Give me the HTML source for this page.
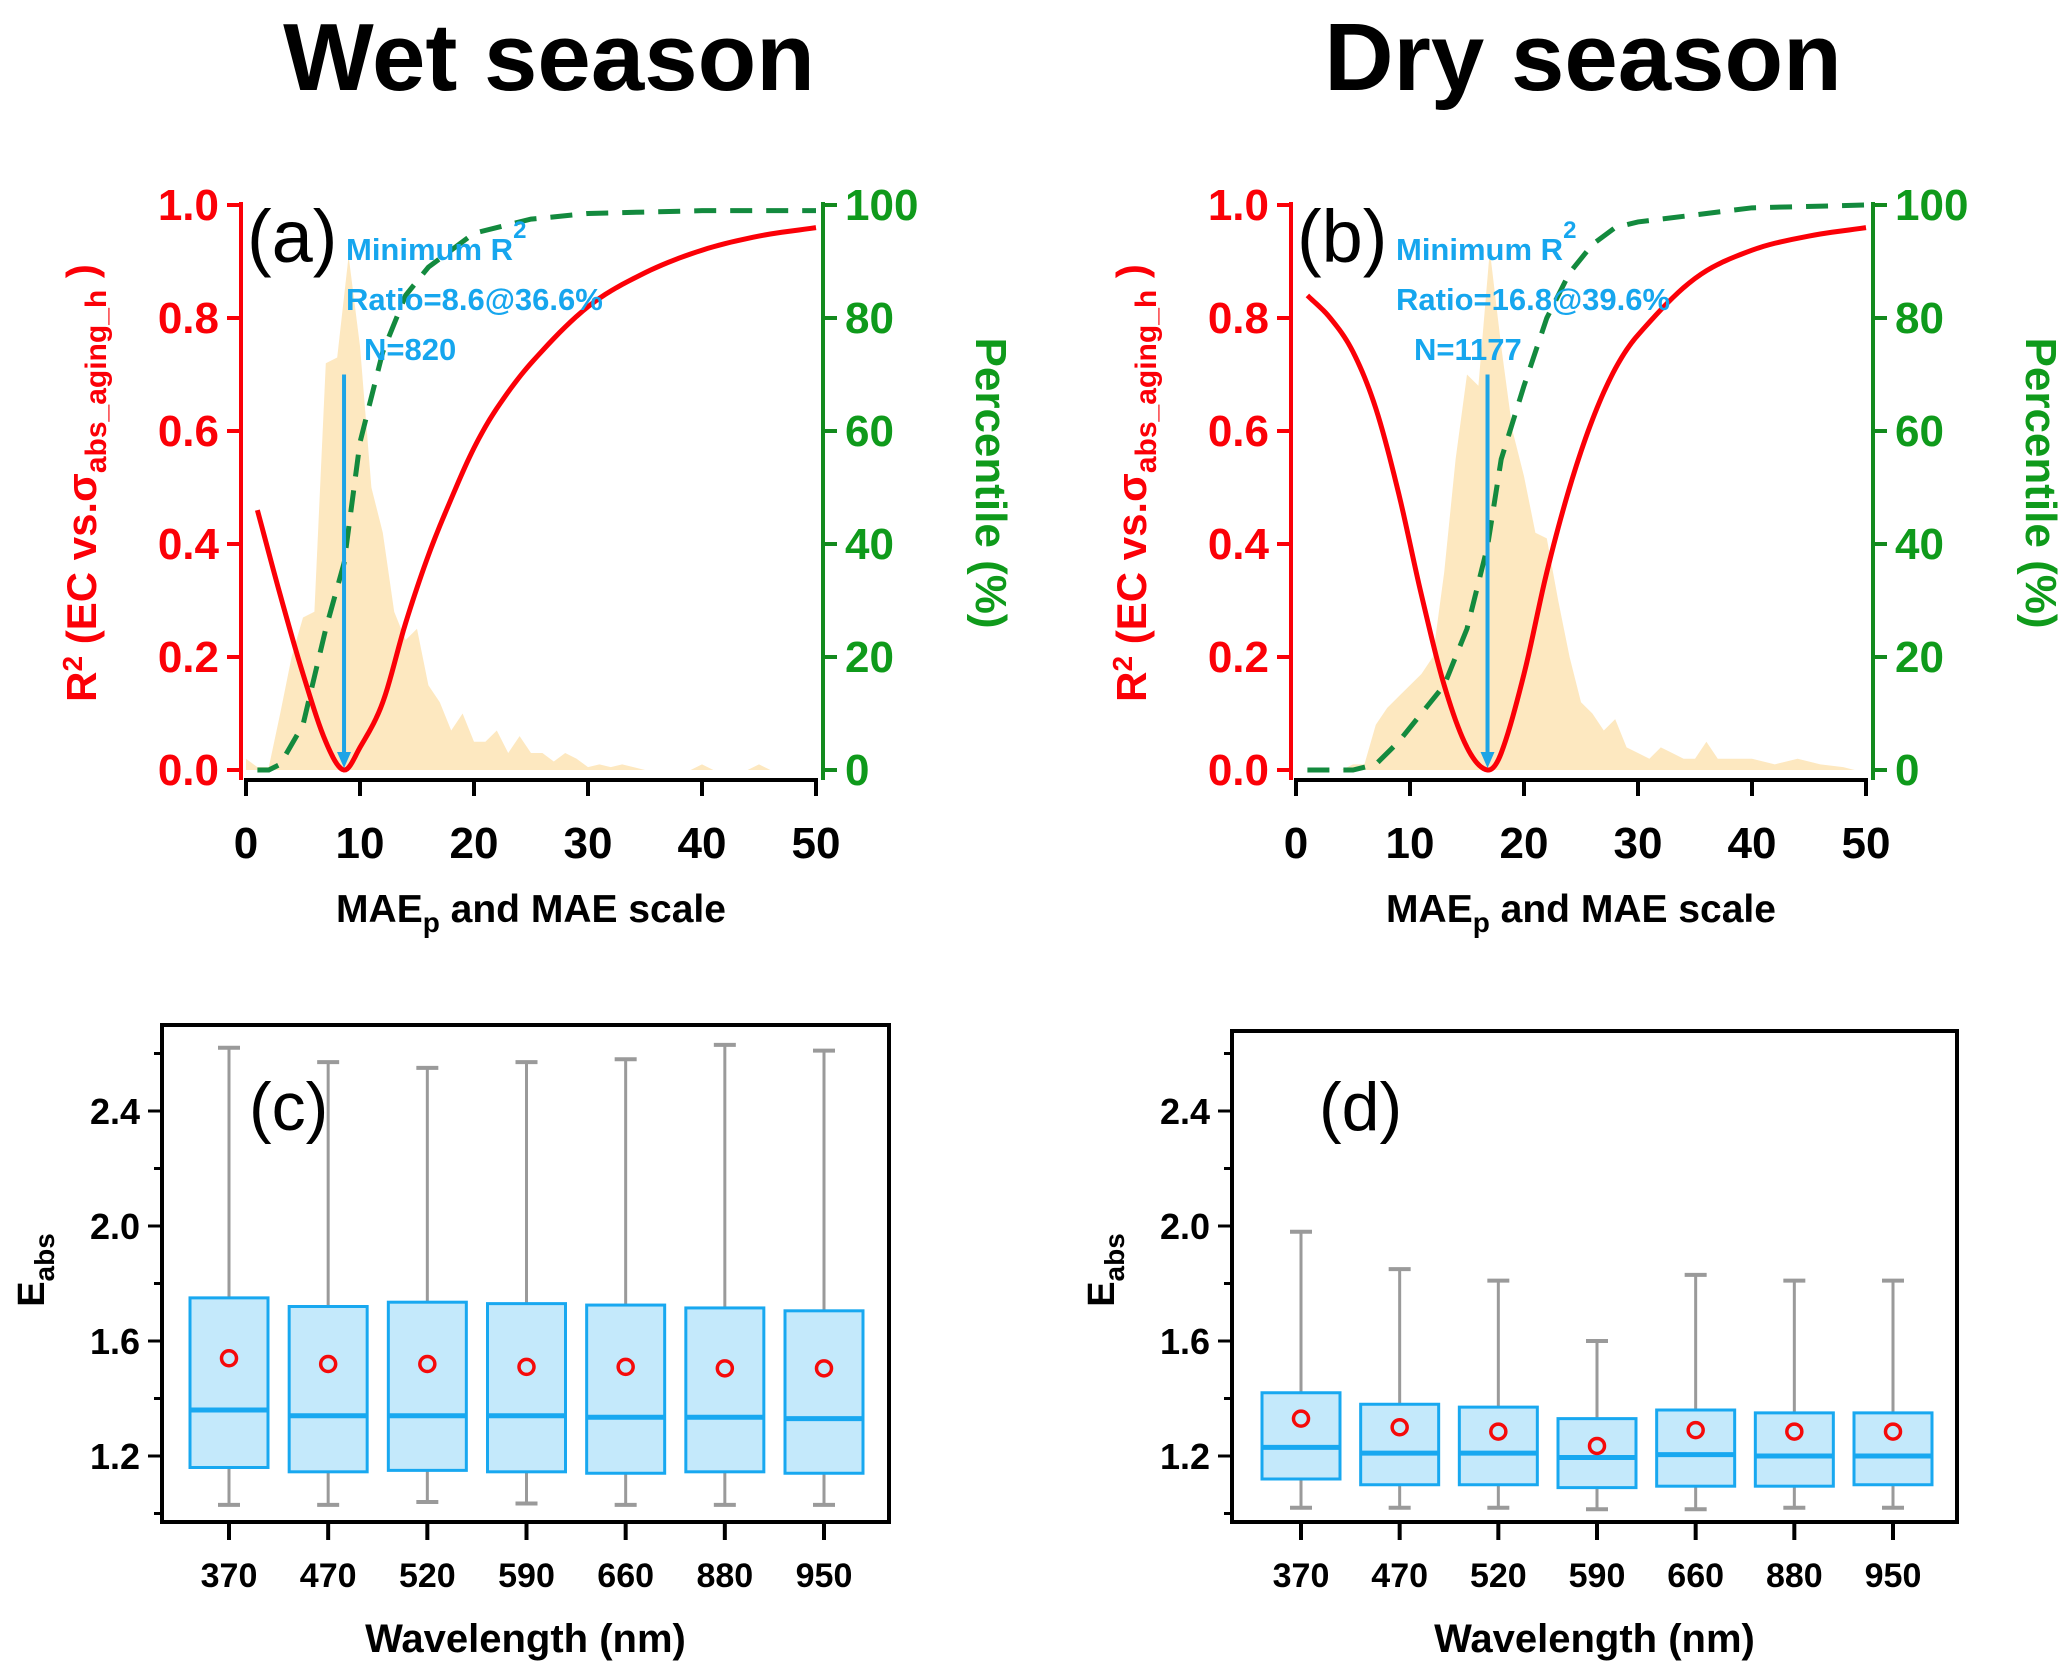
<!DOCTYPE html>
<html><head><meta charset="utf-8"><style>
html,body{margin:0;padding:0;background:#fff;}
svg{display:block;font-family:"Liberation Sans",sans-serif;}
</style></head><body>
<svg id="fig" width="2067" height="1680" viewBox="0 0 2067 1680" xmlns="http://www.w3.org/2000/svg">
<text x="549" y="90" font-size="96" font-weight="bold" text-anchor="middle">Wet season</text>
<text x="1583" y="90" font-size="96" font-weight="bold" text-anchor="middle">Dry season</text>
<g id="gA"></g>
<g id="gB"></g>
<g id="gC"></g>
<g id="gD"></g>
</svg>
<script>
// ---- Panel a data ----
const aR2X = [1,3,5,7,8.6,10,12,14,16,18,20,22,25,30,35,40,45,50];
const aR2Y = [0.46,0.31,0.17,0.05,0,0.04,0.12,0.26,0.38,0.48,0.57,0.64,0.72,0.82,0.88,0.92,0.945,0.96];
const aPctX = [1,2,3,5,7,8.6,10,12,14,16,20,25,30,40,50];
const aPctY = [0,0,1,8,25,36.6,58,74,84,89,95,97.5,98.5,99,99];
const aHistX = [0,1,2,3,4,5,6,7,8,9,10,11,12,13,14,15,16,17,18,19,20,21,22,23,24,25,26,27,28,29,30,31,32,33,35,39,40,41,44,45,46,49];
const aHistY = [0.02,0.005,0.005,0.1,0.2,0.27,0.28,0.72,0.73,0.91,0.75,0.5,0.42,0.28,0.23,0.25,0.15,0.12,0.07,0.1,0.05,0.05,0.07,0.03,0.06,0.03,0.03,0.015,0.03,0.02,0.005,0.01,0.005,0.01,0,0,0.01,0,0,0.01,0,0];
const aMin = 8.6;
const aText = ["Minimum R","Ratio=8.6@36.6%","N=820"];
// ---- Panel b data ----
const bR2X = [1,3,5,7,9,11,13,15,16.8,18,20,22,24,26,28,30,35,40,45,50];
const bR2Y = [0.84,0.8,0.74,0.64,0.49,0.31,0.15,0.04,0,0.03,0.17,0.35,0.5,0.62,0.71,0.77,0.87,0.92,0.945,0.96];
const bPctX = [1,5,7,9,11,13,15,16.8,18,20,22,24,26,28,30,40,50];
const bPctY = [0,0,1,5,10,15,25,39.6,55,68,80,88,93,96,97,99.5,100];
const bHistX = [0,4,5,6,7,8,9,10,11,12,13,14,15,16,17,18,19,20,21,22,23,24,25,26,27,28,29,30,31,32,33,34,35,36,37,38,40,42,44,46,48,49];
const bHistY = [0,0,0.01,0.01,0.08,0.11,0.13,0.15,0.17,0.2,0.35,0.55,0.7,0.68,0.92,0.75,0.6,0.52,0.42,0.41,0.3,0.2,0.12,0.1,0.07,0.09,0.04,0.03,0.02,0.04,0.03,0.02,0.02,0.05,0.02,0.02,0.02,0.01,0.02,0.01,0.005,0];
const bMin = 16.8;
const bText = ["Minimum R","Ratio=16.8@39.6%","N=1177"];
// ---- Box data ----
const waves = ["370","470","520","590","660","880","950"];
const cHigh = [2.62,2.57,2.55,2.57,2.58,2.63,2.61];
const cQ3 = [1.75,1.72,1.735,1.73,1.725,1.715,1.705];
const cMed = [1.36,1.34,1.34,1.34,1.335,1.335,1.33];
const cMean = [1.54,1.52,1.52,1.51,1.51,1.505,1.505];
const cQ1 = [1.16,1.145,1.15,1.145,1.14,1.145,1.14];
const cLow = [1.03,1.03,1.04,1.035,1.03,1.03,1.03];
const dHigh = [1.98,1.85,1.81,1.60,1.83,1.81,1.81];
const dQ3 = [1.42,1.38,1.37,1.33,1.36,1.35,1.35];
const dMed = [1.23,1.21,1.21,1.195,1.205,1.20,1.20];
const dMean = [1.33,1.30,1.285,1.235,1.29,1.285,1.285];
const dQ1 = [1.12,1.10,1.10,1.09,1.095,1.095,1.10];
const dLow = [1.02,1.02,1.02,1.015,1.015,1.02,1.02];
const eTicks = [1.2,1.6,2.0,2.4];

const NS="http://www.w3.org/2000/svg";
function mk(p,tag,at,txt){const e=document.createElementNS(NS,tag);for(const k in at)e.setAttribute(k,at[k]);if(txt!==undefined)e.textContent=txt;p.appendChild(e);return e;}

function linePanel(g,L,R2X,R2Y,PX,PY,HX,HY,minX,txt,lab){
  const x0=L, x1=L+570, y0=770, y1=205;
  const sx=v=>x0+(v/50)*(x1-x0), sy=v=>y0-v*(y0-y1), sp=v=>y0-(v/100)*(y0-y1);
  const axL=x0-5, axR=x1+7;
  let d="M"+sx(HX[0])+","+y0;
  HX.forEach((v,i)=>d+=" L"+sx(v)+","+sy(HY[i]));
  d+=" L"+sx(HX[HX.length-1])+","+y0+"Z";
  let e=mk(g,"path",{d:d,fill:"#fde8c0"});
  
  
  e=mk(g,"polyline",{points:PX.map((v,i)=>sx(v)+","+sp(PY[i])).join(" "),fill:"none",stroke:"#138a3e","stroke-width":5,"stroke-dasharray":"22,14"});
  
  
  let pts=[];
  for(let i=0;i<R2X.length-1;i++){const xa=R2X[i],xb=R2X[i+1],ya=R2Y[i],yb=R2Y[i+1];
    const ma=i>0?(R2Y[i+1]-R2Y[i-1])/(R2X[i+1]-R2X[i-1]):(yb-ya)/(xb-xa);
    const mb=i<R2X.length-2?(R2Y[i+2]-R2Y[i])/(R2X[i+2]-R2X[i]):(yb-ya)/(xb-xa);
    const h=xb-xa;
    for(let t=0;t<1;t+=0.1){const h00=2*t*t*t-3*t*t+1,h10=t*t*t-2*t*t+t,h01=-2*t*t*t+3*t*t,h11=t*t*t-t*t;
      const y=h00*ya+h10*h*ma+h01*yb+h11*h*mb; pts.push(sx(xa+t*h)+","+sy(Math.max(0,y)));}}
  pts.push(sx(R2X[R2X.length-1])+","+sy(R2Y[R2Y.length-1]));
  e=mk(g,"polyline",{points:pts.join(" "),fill:"none",stroke:"#fb0007","stroke-width":5});
  
  
  e=mk(g,"line",{x1:sx(minX),y1:sy(0.7),x2:sx(minX),y2:sy(0)-14,stroke:"#1ea4e6","stroke-width":4});
  
  
  mk(g,"path",{d:`M${sx(minX)-7},${sy(0)-18} L${sx(minX)+7},${sy(0)-18} L${sx(minX)},${sy(0)-2}Z`,fill:"#1ea4e6"});
  e=mk(g,"line",{x1:axL,y1:y1-3,x2:axL,y2:y0+10,stroke:"#fb0007","stroke-width":4});
  
  
  e=mk(g,"line",{x1:axR,y1:y1-3,x2:axR,y2:y0+10,stroke:"#138a1e","stroke-width":4});
  
  
  e=mk(g,"line",{x1:sx(0)-2,y1:780,x2:sx(50)+2,y2:780,stroke:"#000","stroke-width":4});
  
  
  for(let v=0;v<=1.001;v+=0.2){
    mk(g,"line",{x1:axL-14,y1:sy(v),x2:axL,y2:sy(v),stroke:"#fb0007","stroke-width":4});
    e=mk(g,"text",{x:axL-22,y:sy(v)+15,"font-size":44,"font-weight":"bold",fill:"#fb0007","text-anchor":"end"},v.toFixed(1));
    
    
    const p=Math.round(v*100);
    mk(g,"line",{x1:axR,y1:sp(p),x2:axR+14,y2:sp(p),stroke:"#138a1e","stroke-width":4});
    e=mk(g,"text",{x:axR+22,y:sp(p)+15,"font-size":44,"font-weight":"bold",fill:"#0f9a1b"},String(p));
    
    
  }
  for(let v=0;v<=50;v+=10){
    mk(g,"line",{x1:sx(v),y1:780,x2:sx(v),y2:796,stroke:"#000","stroke-width":4});
    e=mk(g,"text",{x:sx(v),y:858,"font-size":44,"font-weight":"bold","text-anchor":"middle"},String(v));
    
    
  }
  e=mk(g,"text",{x:sx(25),y:922,"font-size":39,"font-weight":"bold","text-anchor":"middle"});
  e.innerHTML='MAE<tspan font-size="28" dy="10">p</tspan><tspan dy="-10"> and MAE scale</tspan>';
  
  
  e=mk(g,"text",{transform:`translate(${L-150},483) rotate(-90)`,"font-size":42,"font-weight":"bold",fill:"#fb0007","text-anchor":"middle"});
  e.innerHTML='R<tspan font-size="28" dy="-14">2</tspan><tspan dy="14"> (EC vs.σ</tspan><tspan font-size="30" dy="10">abs_aging_h</tspan><tspan dy="-10"> )</tspan>';
  
  
  e=mk(g,"text",{transform:`translate(${axR+153},483) rotate(90)`,"font-size":44,"font-weight":"bold",fill:"#0f9a1b","text-anchor":"middle"},"Percentile (%)");
  
  
  e=mk(g,"text",{x:axL+6,y:262,"font-size":74},lab);
  
  
  const tx=axL+105;
  e=mk(g,"text",{x:tx,y:260,"font-size":31,"font-weight":"bold",fill:"#16a6ee"});
  e.innerHTML=txt[0]+'<tspan font-size="24" dy="-22">2</tspan>';
  
  
  e=mk(g,"text",{x:tx,y:310,"font-size":31,"font-weight":"bold",fill:"#16a6ee"},txt[1]);
  
  
  e=mk(g,"text",{x:tx+18,y:360,"font-size":31,"font-weight":"bold",fill:"#16a6ee"},txt[2]);
  
  
}

function boxPanel(g,fl,fr,ft,c0,c6,H,Q3,M,Mn,Q1,Lo,lab){
  const fb=1522, sy=v=>1456-(v-1.2)/0.4*115, sx=i=>c0+i*(c6-c0)/6;
  let e=mk(g,"rect",{x:fl,y:ft,width:fr-fl,height:fb-ft,fill:"none",stroke:"#000","stroke-width":4});
  
  
  for(let v=1.0;v<=2.61;v+=0.2){const maj=eTicks.some(t=>Math.abs(t-v)<0.01);
    mk(g,"line",{x1:fl-(maj?14:8),y1:sy(v),x2:fl,y2:sy(v),stroke:"#000","stroke-width":3});}
  eTicks.forEach(v=>{e=mk(g,"text",{x:fl-22,y:sy(v)+13,"font-size":36,"font-weight":"bold","text-anchor":"end"},v.toFixed(1));
    
    });
  waves.forEach((w,i)=>{const x=sx(i);
    mk(g,"line",{x1:x,y1:fb,x2:x,y2:fb+18,stroke:"#000","stroke-width":4});
    e=mk(g,"text",{x:x,y:fb+65,"font-size":34,"font-weight":"bold","text-anchor":"middle"},w);
    
    
    const bg=mk(g,"g",{});
    
    
    mk(bg,"line",{x1:x,y1:sy(H[i]),x2:x,y2:sy(Q3[i]),stroke:"#9a9a9a","stroke-width":3});
    mk(bg,"line",{x1:x,y1:sy(Q1[i]),x2:x,y2:sy(Lo[i]),stroke:"#9a9a9a","stroke-width":3});
    mk(bg,"line",{x1:x-11,y1:sy(H[i]),x2:x+11,y2:sy(H[i]),stroke:"#9a9a9a","stroke-width":4});
    mk(bg,"line",{x1:x-11,y1:sy(Lo[i]),x2:x+11,y2:sy(Lo[i]),stroke:"#9a9a9a","stroke-width":4});
    mk(bg,"rect",{x:x-39,y:sy(Q3[i]),width:78,height:sy(Q1[i])-sy(Q3[i]),fill:"#c4e9fb",stroke:"#18a8f0","stroke-width":3});
    mk(bg,"line",{x1:x-39,y1:sy(M[i]),x2:x+39,y2:sy(M[i]),stroke:"#18a8f0","stroke-width":5});
    mk(bg,"circle",{cx:x,cy:sy(Mn[i]),r:7.5,fill:"none",stroke:"#f50a0a","stroke-width":3.5});
  });
  e=mk(g,"text",{x:(fl+fr)/2,y:1652,"font-size":40,"font-weight":"bold","text-anchor":"middle"},"Wavelength (nm)");
  
  
  e=mk(g,"text",{transform:`translate(${fl-118},1270) rotate(-90)`,"font-size":38,"font-weight":"bold","text-anchor":"middle"});
  e.innerHTML='E<tspan font-size="28" dy="10">abs</tspan>';
  
  
  e=mk(g,"text",{x:fl+87,y:1130,"font-size":68},lab);
  
  
}

linePanel(document.getElementById("gA"),246,aR2X,aR2Y,aPctX,aPctY,aHistX,aHistY,aMin,aText,"(a)");
linePanel(document.getElementById("gB"),1296,bR2X,bR2Y,bPctX,bPctY,bHistX,bHistY,bMin,bText,"(b)");
boxPanel(document.getElementById("gC"),162,889,1025,229,824,cHigh,cQ3,cMed,cMean,cQ1,cLow,"(c)");
boxPanel(document.getElementById("gD"),1232,1957,1031,1301,1893,dHigh,dQ3,dMed,dMean,dQ1,dLow,"(d)");
</script>
</body></html>
